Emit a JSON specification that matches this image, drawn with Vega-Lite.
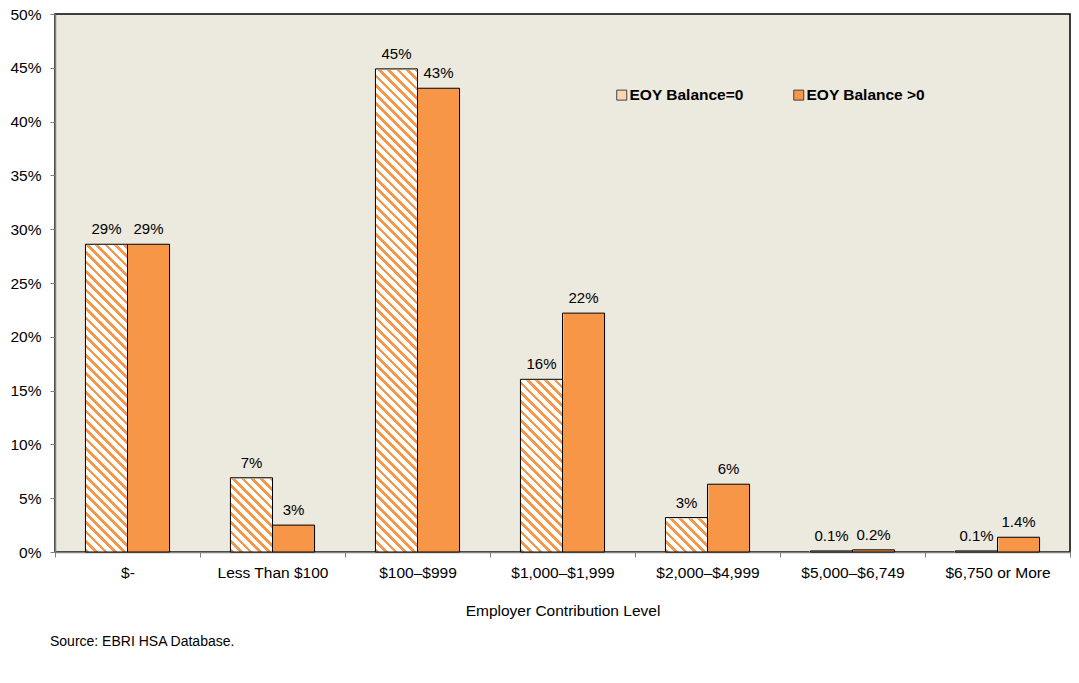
{
  "$schema": "https://vega.github.io/schema/vega-lite/v6.json",
  "width": 1015,
  "height": 538,
  "autosize": {"type": "none"},
  "padding": {"left": 55, "top": 14, "right": 9, "bottom": 131},
  "background": "#ffffff",
  "config": {
    "font": "Liberation Sans",
    "view": {"fill": "#ECE9DF", "stroke": "#000000", "strokeWidth": 1.5},
    "axis": {
      "labelFont": "Liberation Sans", "labelFontSize": 15.5, "labelColor": "#000000",
      "titleFont": "Liberation Sans", "titleFontSize": 15.5, "titleFontWeight": "normal", "titleColor": "#000000",
      "domainColor": "#808080", "domainWidth": 1.5, "tickColor": "#808080", "tickWidth": 1, "tickSize": 5, "grid": false
    }
  },
  "title": {"text": "Source: EBRI HSA Database.", "orient": "bottom", "anchor": "start", "offset": 16, "dx": 40, "fontSize": 14, "fontWeight": "normal", "color": "#000000", "font": "Liberation Sans"},
  "data": {"values": [
    {"cat": "$-", "series": "EOY Balance=0", "value": 0.286, "label": "29%"},
    {"cat": "$-", "series": "EOY Balance >0", "value": 0.286, "label": "29%"},
    {"cat": "Less Than $100", "series": "EOY Balance=0", "value": 0.069, "label": "7%"},
    {"cat": "Less Than $100", "series": "EOY Balance >0", "value": 0.025, "label": "3%"},
    {"cat": "$100–$999", "series": "EOY Balance=0", "value": 0.449, "label": "45%"},
    {"cat": "$100–$999", "series": "EOY Balance >0", "value": 0.431, "label": "43%"},
    {"cat": "$1,000–$1,999", "series": "EOY Balance=0", "value": 0.1605, "label": "16%"},
    {"cat": "$1,000–$1,999", "series": "EOY Balance >0", "value": 0.222, "label": "22%"},
    {"cat": "$2,000–$4,999", "series": "EOY Balance=0", "value": 0.032, "label": "3%"},
    {"cat": "$2,000–$4,999", "series": "EOY Balance >0", "value": 0.063, "label": "6%"},
    {"cat": "$5,000–$6,749", "series": "EOY Balance=0", "value": 0.001, "label": "0.1%"},
    {"cat": "$5,000–$6,749", "series": "EOY Balance >0", "value": 0.002, "label": "0.2%"},
    {"cat": "$6,750 or More", "series": "EOY Balance=0", "value": 0.001, "label": "0.1%"},
    {"cat": "$6,750 or More", "series": "EOY Balance >0", "value": 0.0137, "label": "1.4%"}
  ]},
  "encoding": {
    "x": {
      "field": "cat", "type": "nominal",
      "sort": ["$-", "Less Than $100", "$100–$999", "$1,000–$1,999", "$2,000–$4,999", "$5,000–$6,749", "$6,750 or More"],
      "scale": {"paddingInner": 0, "paddingOuter": 0},
      "axis": {"title": "Employer Contribution Level", "labelAngle": 0, "labelPadding": 8, "titlePadding": 23, "tickBand": "extent"}
    },
    "xOffset": {
      "field": "series", "type": "nominal",
      "sort": ["EOY Balance=0", "EOY Balance >0"],
      "scale": {"paddingInner": 0, "paddingOuter": 0.724}
    }
  },
  "layer": [
    {
      "mark": {"type": "bar"},
      "encoding": {
        "y": {"field": "value", "type": "quantitative", "stack": null, "title": null,
              "scale": {"domain": [0, 0.5], "nice": false},
              "axis": {"format": ".0%", "values": [0, 0.05, 0.1, 0.15, 0.2, 0.25, 0.3, 0.35, 0.4, 0.45, 0.5], "labelPadding": 9, "tickSize": 5, "title": null}},
        "fill": {
          "field": "series", "type": "nominal",
          "scale": {"domain": ["EOY Balance=0", "EOY Balance >0"], "range": ["#FCD5B5", "#F79646"]},
          "legend": {
            "orient": "none", "legendX": 559, "legendY": 73, "direction": "horizontal", "title": null,
            "symbolType": "square", "symbolSize": 100, "symbolStrokeColor": "#404040", "symbolStrokeWidth": 1,
            "labelFont": "Liberation Sans", "labelFontSize": 15.5, "labelFontWeight": "bold", "labelColor": "#000000",
            "labelOffset": 0, "columnPadding": 47, "padding": 0
          }
        }
      }
    },
    {
      "transform": [{"filter": "datum.series === 'EOY Balance=0'"}],
      "mark": {"type": "bar",
        "fill": {"gradient": "linear", "x1": 0, "y1": 1, "x2": 0.08747, "y2": -0.07433, "stops": [
                {"offset": 0, "color": "#F79646"}, {"offset": 0.0067, "color": "#F79646"}, {"offset": 0.0067, "color": "#FFFFFF"}, {"offset": 0.0167, "color": "#FFFFFF"},
                {"offset": 0.0167, "color": "#F79646"}, {"offset": 0.0233, "color": "#F79646"}, {"offset": 0.0233, "color": "#FFFFFF"}, {"offset": 0.0333, "color": "#FFFFFF"},
                {"offset": 0.0333, "color": "#F79646"}, {"offset": 0.04, "color": "#F79646"}, {"offset": 0.04, "color": "#FFFFFF"}, {"offset": 0.05, "color": "#FFFFFF"},
                {"offset": 0.05, "color": "#F79646"}, {"offset": 0.0567, "color": "#F79646"}, {"offset": 0.0567, "color": "#FFFFFF"}, {"offset": 0.0667, "color": "#FFFFFF"},
                {"offset": 0.0667, "color": "#F79646"}, {"offset": 0.0733, "color": "#F79646"}, {"offset": 0.0733, "color": "#FFFFFF"}, {"offset": 0.0833, "color": "#FFFFFF"},
                {"offset": 0.0833, "color": "#F79646"}, {"offset": 0.09, "color": "#F79646"}, {"offset": 0.09, "color": "#FFFFFF"}, {"offset": 0.1, "color": "#FFFFFF"},
                {"offset": 0.1, "color": "#F79646"}, {"offset": 0.1067, "color": "#F79646"}, {"offset": 0.1067, "color": "#FFFFFF"}, {"offset": 0.1167, "color": "#FFFFFF"},
                {"offset": 0.1167, "color": "#F79646"}, {"offset": 0.1233, "color": "#F79646"}, {"offset": 0.1233, "color": "#FFFFFF"}, {"offset": 0.1333, "color": "#FFFFFF"},
                {"offset": 0.1333, "color": "#F79646"}, {"offset": 0.14, "color": "#F79646"}, {"offset": 0.14, "color": "#FFFFFF"}, {"offset": 0.15, "color": "#FFFFFF"},
                {"offset": 0.15, "color": "#F79646"}, {"offset": 0.1567, "color": "#F79646"}, {"offset": 0.1567, "color": "#FFFFFF"}, {"offset": 0.1667, "color": "#FFFFFF"},
                {"offset": 0.1667, "color": "#F79646"}, {"offset": 0.1733, "color": "#F79646"}, {"offset": 0.1733, "color": "#FFFFFF"}, {"offset": 0.1833, "color": "#FFFFFF"},
                {"offset": 0.1833, "color": "#F79646"}, {"offset": 0.19, "color": "#F79646"}, {"offset": 0.19, "color": "#FFFFFF"}, {"offset": 0.2, "color": "#FFFFFF"},
                {"offset": 0.2, "color": "#F79646"}, {"offset": 0.2067, "color": "#F79646"}, {"offset": 0.2067, "color": "#FFFFFF"}, {"offset": 0.2167, "color": "#FFFFFF"},
                {"offset": 0.2167, "color": "#F79646"}, {"offset": 0.2233, "color": "#F79646"}, {"offset": 0.2233, "color": "#FFFFFF"}, {"offset": 0.2333, "color": "#FFFFFF"},
                {"offset": 0.2333, "color": "#F79646"}, {"offset": 0.24, "color": "#F79646"}, {"offset": 0.24, "color": "#FFFFFF"}, {"offset": 0.25, "color": "#FFFFFF"},
                {"offset": 0.25, "color": "#F79646"}, {"offset": 0.2567, "color": "#F79646"}, {"offset": 0.2567, "color": "#FFFFFF"}, {"offset": 0.2667, "color": "#FFFFFF"},
                {"offset": 0.2667, "color": "#F79646"}, {"offset": 0.2733, "color": "#F79646"}, {"offset": 0.2733, "color": "#FFFFFF"}, {"offset": 0.2833, "color": "#FFFFFF"},
                {"offset": 0.2833, "color": "#F79646"}, {"offset": 0.29, "color": "#F79646"}, {"offset": 0.29, "color": "#FFFFFF"}, {"offset": 0.3, "color": "#FFFFFF"},
                {"offset": 0.3, "color": "#F79646"}, {"offset": 0.3067, "color": "#F79646"}, {"offset": 0.3067, "color": "#FFFFFF"}, {"offset": 0.3167, "color": "#FFFFFF"},
                {"offset": 0.3167, "color": "#F79646"}, {"offset": 0.3233, "color": "#F79646"}, {"offset": 0.3233, "color": "#FFFFFF"}, {"offset": 0.3333, "color": "#FFFFFF"},
                {"offset": 0.3333, "color": "#F79646"}, {"offset": 0.34, "color": "#F79646"}, {"offset": 0.34, "color": "#FFFFFF"}, {"offset": 0.35, "color": "#FFFFFF"},
                {"offset": 0.35, "color": "#F79646"}, {"offset": 0.3567, "color": "#F79646"}, {"offset": 0.3567, "color": "#FFFFFF"}, {"offset": 0.3667, "color": "#FFFFFF"},
                {"offset": 0.3667, "color": "#F79646"}, {"offset": 0.3733, "color": "#F79646"}, {"offset": 0.3733, "color": "#FFFFFF"}, {"offset": 0.3833, "color": "#FFFFFF"},
                {"offset": 0.3833, "color": "#F79646"}, {"offset": 0.39, "color": "#F79646"}, {"offset": 0.39, "color": "#FFFFFF"}, {"offset": 0.4, "color": "#FFFFFF"},
                {"offset": 0.4, "color": "#F79646"}, {"offset": 0.4067, "color": "#F79646"}, {"offset": 0.4067, "color": "#FFFFFF"}, {"offset": 0.4167, "color": "#FFFFFF"},
                {"offset": 0.4167, "color": "#F79646"}, {"offset": 0.4233, "color": "#F79646"}, {"offset": 0.4233, "color": "#FFFFFF"}, {"offset": 0.4333, "color": "#FFFFFF"},
                {"offset": 0.4333, "color": "#F79646"}, {"offset": 0.44, "color": "#F79646"}, {"offset": 0.44, "color": "#FFFFFF"}, {"offset": 0.45, "color": "#FFFFFF"},
                {"offset": 0.45, "color": "#F79646"}, {"offset": 0.4567, "color": "#F79646"}, {"offset": 0.4567, "color": "#FFFFFF"}, {"offset": 0.4667, "color": "#FFFFFF"},
                {"offset": 0.4667, "color": "#F79646"}, {"offset": 0.4733, "color": "#F79646"}, {"offset": 0.4733, "color": "#FFFFFF"}, {"offset": 0.4833, "color": "#FFFFFF"},
                {"offset": 0.4833, "color": "#F79646"}, {"offset": 0.49, "color": "#F79646"}, {"offset": 0.49, "color": "#FFFFFF"}, {"offset": 0.5, "color": "#FFFFFF"},
                {"offset": 0.5, "color": "#F79646"}, {"offset": 0.5067, "color": "#F79646"}, {"offset": 0.5067, "color": "#FFFFFF"}, {"offset": 0.5167, "color": "#FFFFFF"},
                {"offset": 0.5167, "color": "#F79646"}, {"offset": 0.5233, "color": "#F79646"}, {"offset": 0.5233, "color": "#FFFFFF"}, {"offset": 0.5333, "color": "#FFFFFF"},
                {"offset": 0.5333, "color": "#F79646"}, {"offset": 0.54, "color": "#F79646"}, {"offset": 0.54, "color": "#FFFFFF"}, {"offset": 0.55, "color": "#FFFFFF"},
                {"offset": 0.55, "color": "#F79646"}, {"offset": 0.5567, "color": "#F79646"}, {"offset": 0.5567, "color": "#FFFFFF"}, {"offset": 0.5667, "color": "#FFFFFF"},
                {"offset": 0.5667, "color": "#F79646"}, {"offset": 0.5733, "color": "#F79646"}, {"offset": 0.5733, "color": "#FFFFFF"}, {"offset": 0.5833, "color": "#FFFFFF"},
                {"offset": 0.5833, "color": "#F79646"}, {"offset": 0.59, "color": "#F79646"}, {"offset": 0.59, "color": "#FFFFFF"}, {"offset": 0.6, "color": "#FFFFFF"},
                {"offset": 0.6, "color": "#F79646"}, {"offset": 0.6067, "color": "#F79646"}, {"offset": 0.6067, "color": "#FFFFFF"}, {"offset": 0.6167, "color": "#FFFFFF"},
                {"offset": 0.6167, "color": "#F79646"}, {"offset": 0.6233, "color": "#F79646"}, {"offset": 0.6233, "color": "#FFFFFF"}, {"offset": 0.6333, "color": "#FFFFFF"},
                {"offset": 0.6333, "color": "#F79646"}, {"offset": 0.64, "color": "#F79646"}, {"offset": 0.64, "color": "#FFFFFF"}, {"offset": 0.65, "color": "#FFFFFF"},
                {"offset": 0.65, "color": "#F79646"}, {"offset": 0.6567, "color": "#F79646"}, {"offset": 0.6567, "color": "#FFFFFF"}, {"offset": 0.6667, "color": "#FFFFFF"},
                {"offset": 0.6667, "color": "#F79646"}, {"offset": 0.6733, "color": "#F79646"}, {"offset": 0.6733, "color": "#FFFFFF"}, {"offset": 0.6833, "color": "#FFFFFF"},
                {"offset": 0.6833, "color": "#F79646"}, {"offset": 0.69, "color": "#F79646"}, {"offset": 0.69, "color": "#FFFFFF"}, {"offset": 0.7, "color": "#FFFFFF"},
                {"offset": 0.7, "color": "#F79646"}, {"offset": 0.7067, "color": "#F79646"}, {"offset": 0.7067, "color": "#FFFFFF"}, {"offset": 0.7167, "color": "#FFFFFF"},
                {"offset": 0.7167, "color": "#F79646"}, {"offset": 0.7233, "color": "#F79646"}, {"offset": 0.7233, "color": "#FFFFFF"}, {"offset": 0.7333, "color": "#FFFFFF"},
                {"offset": 0.7333, "color": "#F79646"}, {"offset": 0.74, "color": "#F79646"}, {"offset": 0.74, "color": "#FFFFFF"}, {"offset": 0.75, "color": "#FFFFFF"},
                {"offset": 0.75, "color": "#F79646"}, {"offset": 0.7567, "color": "#F79646"}, {"offset": 0.7567, "color": "#FFFFFF"}, {"offset": 0.7667, "color": "#FFFFFF"},
                {"offset": 0.7667, "color": "#F79646"}, {"offset": 0.7733, "color": "#F79646"}, {"offset": 0.7733, "color": "#FFFFFF"}, {"offset": 0.7833, "color": "#FFFFFF"},
                {"offset": 0.7833, "color": "#F79646"}, {"offset": 0.79, "color": "#F79646"}, {"offset": 0.79, "color": "#FFFFFF"}, {"offset": 0.8, "color": "#FFFFFF"},
                {"offset": 0.8, "color": "#F79646"}, {"offset": 0.8067, "color": "#F79646"}, {"offset": 0.8067, "color": "#FFFFFF"}, {"offset": 0.8167, "color": "#FFFFFF"},
                {"offset": 0.8167, "color": "#F79646"}, {"offset": 0.8233, "color": "#F79646"}, {"offset": 0.8233, "color": "#FFFFFF"}, {"offset": 0.8333, "color": "#FFFFFF"},
                {"offset": 0.8333, "color": "#F79646"}, {"offset": 0.84, "color": "#F79646"}, {"offset": 0.84, "color": "#FFFFFF"}, {"offset": 0.85, "color": "#FFFFFF"},
                {"offset": 0.85, "color": "#F79646"}, {"offset": 0.8567, "color": "#F79646"}, {"offset": 0.8567, "color": "#FFFFFF"}, {"offset": 0.8667, "color": "#FFFFFF"},
                {"offset": 0.8667, "color": "#F79646"}, {"offset": 0.8733, "color": "#F79646"}, {"offset": 0.8733, "color": "#FFFFFF"}, {"offset": 0.8833, "color": "#FFFFFF"},
                {"offset": 0.8833, "color": "#F79646"}, {"offset": 0.89, "color": "#F79646"}, {"offset": 0.89, "color": "#FFFFFF"}, {"offset": 0.9, "color": "#FFFFFF"},
                {"offset": 0.9, "color": "#F79646"}, {"offset": 0.9067, "color": "#F79646"}, {"offset": 0.9067, "color": "#FFFFFF"}, {"offset": 0.9167, "color": "#FFFFFF"},
                {"offset": 0.9167, "color": "#F79646"}, {"offset": 0.9233, "color": "#F79646"}, {"offset": 0.9233, "color": "#FFFFFF"}, {"offset": 0.9333, "color": "#FFFFFF"},
                {"offset": 0.9333, "color": "#F79646"}, {"offset": 0.94, "color": "#F79646"}, {"offset": 0.94, "color": "#FFFFFF"}, {"offset": 0.95, "color": "#FFFFFF"},
                {"offset": 0.95, "color": "#F79646"}, {"offset": 0.9567, "color": "#F79646"}, {"offset": 0.9567, "color": "#FFFFFF"}, {"offset": 0.9667, "color": "#FFFFFF"},
                {"offset": 0.9667, "color": "#F79646"}, {"offset": 0.9733, "color": "#F79646"}, {"offset": 0.9733, "color": "#FFFFFF"}, {"offset": 0.9833, "color": "#FFFFFF"},
                {"offset": 0.9833, "color": "#F79646"}, {"offset": 0.99, "color": "#F79646"}, {"offset": 0.99, "color": "#FFFFFF"}, {"offset": 1, "color": "#FFFFFF"}
        ]}
      },
      "encoding": {
        "y": {"datum": 0.48, "type": "quantitative", "stack": null, "title": null}
      }
    },
    {
      "transform": [{"filter": "datum.series === 'EOY Balance=0'"}],
      "mark": {"type": "bar", "fill": "#ECE9DF", "stroke": "#ECE9DF", "strokeWidth": 2},
      "encoding": {
        "y": {"field": "value", "type": "quantitative", "title": null, "stack": null},
        "y2": {"datum": 0.48}
      }
    },
    {
      "mark": {"type": "bar", "fill": "transparent", "stroke": "#000000", "strokeWidth": 1},
      "encoding": {
        "y": {"field": "value", "type": "quantitative", "title": null, "stack": null}
      }
    },
    {
      "mark": {"type": "text", "dy": -10, "baseline": "alphabetic", "fontSize": 15, "font": "Liberation Sans", "color": "#000000"},
      "encoding": {
        "y": {"field": "value", "type": "quantitative", "title": null, "stack": null},
        "text": {"field": "label"}
      }
    }
  ]
}
